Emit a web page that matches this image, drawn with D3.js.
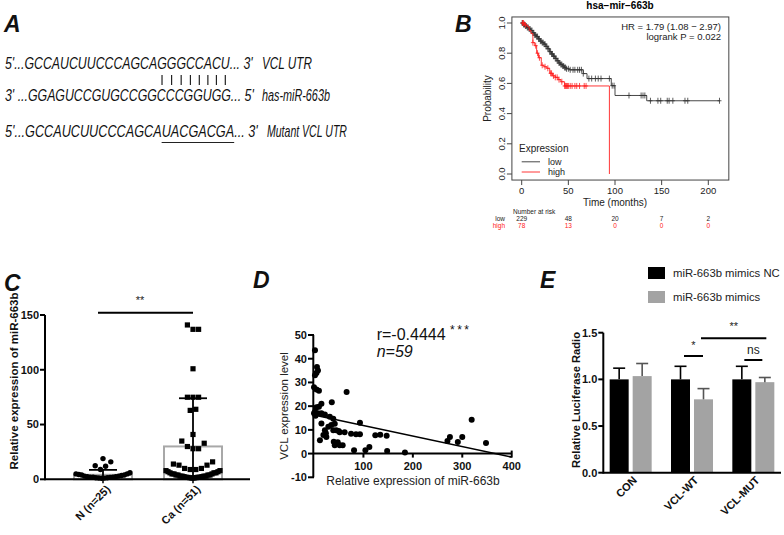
<!DOCTYPE html>
<html><head><meta charset="utf-8">
<script src="https://cdn.jsdelivr.net/npm/d3@7"></script>
<style>body{margin:0;background:#fff}svg{display:block}text{font-family:"Liberation Sans",Arial,Helvetica,sans-serif}</style>
</head><body><svg id="c" width="784" height="535"></svg>
<script>
// ---------- DATA ----------
// Panel A
const seqLeft = ["5'...GCCAUCUUCCCAGCAGGGCCACU... 3'", "3' ...GGAGUCCGUGCCGGCCCGGUGG... 5'", "5'...GCCAUCUUCCCAGCAUACGACGA... 3'"];
const seqRight = ["VCL UTR", "has-miR-663b", "Mutant VCL UTR"];
const pairIdx = [20, 21, 22, 23, 24, 25, 26, 27];
// Panel B (Kaplan-Meier)
const kmTitle = "hsa\u2212mir\u2212663b";
const kmLowT = [0, 2, 4, 6, 8, 10, 12, 14, 16, 18, 20, 22, 24, 26, 28, 30, 32, 34, 36, 38, 40, 42, 44, 46, 48, 51, 66, 70, 96, 100, 134, 212];
const kmLowS = [1.0, 0.99, 0.98, 0.97, 0.96, 0.95, 0.935, 0.92, 0.91, 0.895, 0.88, 0.87, 0.86, 0.845, 0.83, 0.81, 0.795, 0.78, 0.765, 0.75, 0.735, 0.725, 0.715, 0.705, 0.697, 0.69, 0.665, 0.632, 0.585, 0.52, 0.485, 0.485];
const kmLowCens = [0.5, 1, 2, 3, 4, 5, 6, 7, 8, 9, 10, 11, 12, 13, 14, 15, 16, 17, 18, 19, 20, 21, 22, 23, 24, 25, 26, 27, 28, 29, 30, 31, 32, 33, 34, 35, 36, 37, 38, 39, 40, 41, 42, 43, 44, 45, 46, 47, 48, 50, 52, 55, 57, 60, 62, 64, 66, 72, 75, 79, 82, 85, 94, 97, 99, 115, 128, 130, 132, 138, 146, 149, 156, 158, 162, 175, 178, 212];
const kmHighT = [0, 3, 6, 8, 10, 12, 14, 16, 18, 21, 24, 27, 30, 33, 36, 39, 42, 46, 94];
const kmHighS = [1.0, 0.987, 0.975, 0.95, 0.93, 0.87, 0.85, 0.80, 0.77, 0.72, 0.71, 0.70, 0.667, 0.65, 0.64, 0.625, 0.611, 0.583, 0];
const kmHighCens = [1, 2, 4, 12, 15, 17, 19, 22, 25, 28, 31, 32, 34, 36, 38, 40, 43, 46, 47, 48, 49, 50, 52, 54, 57, 59, 62, 67, 69];
const kmXTicks = [0, 50, 100, 150, 200];
const kmYTicks = [0, 0.2, 0.4, 0.6, 0.8, 1.0];
const kmStats = ["HR = 1.79 (1.08 \u2212 2.97)", "logrank P = 0.022"];
const riskTimes = [0, 50, 100, 150, 200];
const riskLow = [229, 48, 20, 7, 2];
const riskHigh = [78, 13, 0, 0, 0];
// Panel C
const groupsC = ["N (n=25)", "Ca (n=51)"];
const valuesN = [18, 15, 11.5, 11, 8, 5, 4, 4, 3.5, 3, 3, 2.5, 2, 2, 1.5, 1.5, 1, 1, 1, 0.8, 0.5, 0.5, 0.3, 0.2, 0.1];
const valuesCa = [140, 136, 136, 100, 74, 74, 74, 63, 62, 40, 34, 32, 29, 27, 27, 15, 13, 12, 12, 9, 9, 8, 8, 7, 7, 6, 6, 5, 5, 5, 4, 4, 4, 3, 3, 3, 3, 2, 2, 2, 2, 1.5, 1.5, 1, 1, 1, 0.8, 0.6, 0.5, 0.3, 0.2];
const meanC = [4.1, 30];
const sdC = [4.5, 44];
const ticksC = [0, 50, 100, 150];
// Panel D
const scatX = [2, 2, 5, 6, 8, 0, 5, 10, 2, 5, 10, 15, 8, 15, 22, 15, 12, 36, 32, 39, 42, 29, 22, 25, 19, 39, 45, 52, 62, 75, 66, 93, 85, 93, 45, 52, 58, 48, 81, 104, 112, 124, 134, 147, 148, 184, 319, 275, 270, 291, 300, 348, 0, 3, 24, 40, 42, 50, 35];
const scatY = [43.6, 33, 34, 36.5, 35, 28, 27, 26.5, 17.6, 19.5, 19.7, 21, 17, 17, 16.5, 12.7, 5.6, 21.6, 15.5, 14.7, 12.6, 11.3, 9.8, 7, 7.8, 9.8, 9.8, 9, 9, 8.4, 26, 13, 8.2, 8.2, 4.3, 3.5, 3.5, 4.8, 1.4, 1.4, 2.8, 7.7, 7.9, 7.5, 1.1, 0.5, 14.3, 7, 5.3, 4.9, 7, 4.5, 17, 16, 8.6, 5, 3.5, 9.5, 12];
const regIntercept = 16.3, regSlope = -0.0445, regRange = [0, 400];
const ticksDX = [100, 200, 300, 400];
const ticksDY = [-10, 0, 10, 20, 30, 40, 50];
// Panel E
const groupsE = ["CON", "VCL-WT", "VCL-MUT"];
const seriesE = ["miR-663b mimics NC", "miR-663b mimics"];
const meanNC = [1.0, 1.0, 1.0];
const meanMim = [1.035, 0.786, 0.97];
const errNC = [0.12, 0.14, 0.14];
const errMim = [0.135, 0.115, 0.05];
const ticksE = [0, 0.5, 1.0, 1.5];

// ---------- DRAW ----------
const svg = d3.select("#c");
svg.append("rect").attr("width", 784).attr("height", 535).attr("fill", "#fff");

// panel letters
[["A", 4, 32], ["B", 455, 32], ["C", 4, 291], ["D", 253, 288], ["E", 540, 288]].forEach(([t, x, y]) =>
  svg.append("text").attr("x", x).attr("y", y).attr("font-size", 23).attr("font-weight", "bold")
    .attr("font-style", "italic").attr("fill", "#111").text(t));

// ===== Panel A =====
const aBase = [69, 101, 137];
const aLen = [[248, 50], [249, 68], [253, 80]];
const aRightX = [262, 262, 267];
function fitText(str, x, y, w) {
  const t = svg.append("text").attr("font-size", 16.5).attr("font-style", "italic").attr("fill", "#111").text(str);
  const nat = t.node().getComputedTextLength();
  const sx = w / nat;
  t.attr("transform", `translate(${x},${y}) scale(${sx},1)`);
  return { node: t.node(), x, sx };
}
const seqNodes = seqLeft.map((s, i) => fitText(s, 5, aBase[i], aLen[i][0]));
seqRight.forEach((s, i) => fitText(s, aRightX[i], aBase[i], aLen[i][1]));
const s1 = seqNodes[0], s3 = seqNodes[2];
pairIdx.forEach(i => {
  const st = s1.node.getStartPositionOfChar(i).x, en = s1.node.getEndPositionOfChar(i).x;
  const cx = s1.x + s1.sx * (st + en) / 2;
  svg.append("line").attr("x1", cx).attr("x2", cx).attr("y1", 75).attr("y2", 85).attr("stroke", "#222").attr("stroke-width", 1.2);
});
{
  const x1 = s3.x + s3.sx * s3.node.getStartPositionOfChar(pairIdx[0]).x;
  const x2 = s3.x + s3.sx * s3.node.getEndPositionOfChar(pairIdx[pairIdx.length - 1]).x;
  svg.append("line").attr("x1", x1).attr("x2", x2).attr("y1", 142.5).attr("y2", 142.5).attr("stroke", "#222").attr("stroke-width", 1);
}

// ===== Panel B =====
const gB = svg.append("g");
const xB = d3.scaleLinear().domain([0, 200]).range([521.7, 708.3]);
const yB = d3.scaleLinear().domain([0, 1]).range([174, 23]);
gB.append("text").attr("x", 620).attr("y", 9).attr("text-anchor", "middle").attr("font-size", 10).attr("font-weight", "bold").text(kmTitle);
gB.append("rect").attr("x", xB(-10.5)).attr("y", yB(1.04)).attr("width", xB(222) - xB(-10.5)).attr("height", yB(-0.04) - yB(1.04))
  .attr("fill", "none").attr("stroke", "#444").attr("stroke-width", 1);
const boxL = xB(-10.5), boxB = yB(-0.04);
kmYTicks.forEach(v => {
  gB.append("line").attr("x1", boxL - 5).attr("x2", boxL).attr("y1", yB(v)).attr("y2", yB(v)).attr("stroke", "#444");
  gB.append("text").attr("transform", `translate(${boxL - 7},${yB(v)}) rotate(-90)`).attr("text-anchor", "middle")
    .attr("font-size", 9.5).attr("fill", "#222").text(v.toFixed(1));
});
kmXTicks.forEach(v => {
  gB.append("line").attr("x1", xB(v)).attr("x2", xB(v)).attr("y1", boxB).attr("y2", boxB + 5).attr("stroke", "#444");
  gB.append("text").attr("x", xB(v)).attr("y", 193.5).attr("text-anchor", "middle").attr("font-size", 9.5).attr("fill", "#222").text(v);
});
gB.append("text").attr("x", xB(100)).attr("y", 206).attr("text-anchor", "middle").attr("font-size", 10).attr("fill", "#222").text("Time (months)");
gB.append("text").attr("transform", `translate(491,${(yB(0) + yB(1)) / 2}) rotate(-90)`).attr("text-anchor", "middle").attr("font-size", 10).attr("fill", "#222").text("Probability");
kmStats.forEach((s, i) => gB.append("text").attr("x", 721).attr("y", 29.5 + i * 10.5).attr("text-anchor", "end").attr("font-size", 9.5).attr("fill", "#222").text(s));

function survAt(T, S, t) { const i = d3.bisectRight(T, t) - 1; return S[Math.max(0, i)]; }
const kmLine = d3.line().x(d => xB(d[0])).y(d => yB(d[1])).curve(d3.curveStepAfter);
function drawKM(T, S, cens, color) {
  gB.append("path").attr("d", kmLine(T.map((t, i) => [t, S[i]]))).attr("fill", "none").attr("stroke", color).attr("stroke-width", 0.9);
  cens.forEach(t => {
    const s = survAt(T, S, t);
    gB.append("line").attr("x1", xB(t)).attr("x2", xB(t)).attr("y1", yB(s) - 3).attr("y2", yB(s) + 3).attr("stroke", color).attr("stroke-width", 0.8);
    gB.append("line").attr("x1", xB(t) - 2).attr("x2", xB(t) + 2).attr("y1", yB(s)).attr("y2", yB(s)).attr("stroke", color).attr("stroke-width", 0.8);
  });
}
drawKM(kmLowT, kmLowS, kmLowCens, "#333");
drawKM(kmHighT, kmHighS, kmHighCens, "#ff2020");
// legend
gB.append("text").attr("x", 519).attr("y", 152).attr("font-size", 10).attr("fill", "#222").text("Expression");
[["low", "#333", 161.8], ["high", "#ff2020", 172]].forEach(([t, c, y]) => {
  gB.append("line").attr("x1", 521.7).attr("x2", 540).attr("y1", y).attr("y2", y).attr("stroke", c).attr("stroke-width", 0.9);
  gB.append("text").attr("x", 548).attr("y", y + 3.2).attr("font-size", 9).attr("fill", "#222").text(t);
});
// risk table
gB.append("text").attr("x", 513).attr("y", 214).attr("font-size", 6.5).attr("fill", "#222").text("Number at risk");
gB.append("text").attr("x", 505).attr("y", 220.5).attr("text-anchor", "end").attr("font-size", 6.5).attr("fill", "#222").text("low");
gB.append("text").attr("x", 505).attr("y", 228).attr("text-anchor", "end").attr("font-size", 6.5).attr("fill", "#ff2020").text("high");
riskTimes.forEach((t, i) => {
  gB.append("text").attr("x", xB(t)).attr("y", 220.5).attr("text-anchor", "middle").attr("font-size", 6.5).attr("fill", "#222").text(riskLow[i]);
  gB.append("text").attr("x", xB(t)).attr("y", 228).attr("text-anchor", "middle").attr("font-size", 6.5).attr("fill", "#ff2020").text(riskHigh[i]);
});

// ===== Panel C =====
const gC = svg.append("g");
const yC = d3.scaleLinear().domain([0, 150]).range([479.3, 315]);
const xC = d3.scalePoint().domain(groupsC).range([58, 238]).padding(0.5);
const axC = 45;
const barWC = 58;
// Prism-like column scatter: rows of nearby values, spread alternately outward, compressed to column width
function columnScatter(vals, sym, rowH, maxW) {
  const pts = vals.map(v => ({ v, y: yC(v) })).sort((a, b) => a.v - b.v);
  const rows = [];
  pts.forEach(p => {
    const r = rows[rows.length - 1];
    if (r && r[0].y - p.y < rowH) r.push(p); else rows.push([p]);
  });
  rows.forEach(row => {
    const n = row.length;
    const sp = n > 1 ? Math.min(sym, maxW / (n - 1)) : 0;
    row.forEach((p, i) => {
      const k = Math.ceil(i / 2), side = i % 2 ? 1 : -1;
      p.dx = k * side * sp;
    });
    const m = (d3.max(row, p => p.dx) + d3.min(row, p => p.dx)) / 2;
    row.forEach(p => p.dx -= m);
  });
  return pts;
}
groupsC.forEach((g, i) => {
  gC.append("rect").attr("x", xC(g) - barWC / 2).attr("y", yC(meanC[i])).attr("width", barWC).attr("height", yC(0) - yC(meanC[i]))
    .attr("fill", "#fff").attr("stroke", "#a8a8a8").attr("stroke-width", 2);
});
columnScatter(valuesN, 5.2, 8, barWC - 4).forEach(p => gC.append("circle").attr("cx", xC(groupsC[0]) + p.dx).attr("cy", p.y - 1).attr("r", 2.7).attr("fill", "#000"));
columnScatter(valuesCa, 5.6, 8, barWC - 4).forEach(p => gC.append("rect").attr("x", xC(groupsC[1]) + p.dx - 2.6).attr("y", p.y - 3.6).attr("width", 5.2).attr("height", 5.2).attr("fill", "#000"));
groupsC.forEach((g, i) => {
  const top = meanC[i] + sdC[i], bot = Math.max(0, meanC[i] - sdC[i]);
  gC.append("line").attr("x1", xC(g)).attr("x2", xC(g)).attr("y1", yC(top)).attr("y2", yC(bot)).attr("stroke", "#000").attr("stroke-width", 1.8);
  gC.append("line").attr("x1", xC(g) - 14).attr("x2", xC(g) + 14).attr("y1", yC(top)).attr("y2", yC(top)).attr("stroke", "#000").attr("stroke-width", 1.8);
});
gC.append("line").attr("x1", axC).attr("x2", axC).attr("y1", yC(0) + 1).attr("y2", yC(150)).attr("stroke", "#000").attr("stroke-width", 2);
gC.append("line").attr("x1", axC).attr("x2", 250).attr("y1", yC(0)).attr("y2", yC(0)).attr("stroke", "#000").attr("stroke-width", 2);
ticksC.forEach(v => {
  gC.append("line").attr("x1", axC - 5).attr("x2", axC).attr("y1", yC(v)).attr("y2", yC(v)).attr("stroke", "#000").attr("stroke-width", 2);
  gC.append("text").attr("x", axC - 6).attr("y", yC(v)).attr("dy", "0.36em").attr("text-anchor", "end").attr("font-size", 11).attr("font-weight", "bold").attr("fill", "#111").text(v);
});
groupsC.forEach(g => {
  gC.append("line").attr("x1", xC(g)).attr("x2", xC(g)).attr("y1", yC(0)).attr("y2", yC(0) + 4).attr("stroke", "#000").attr("stroke-width", 1.5);
  gC.append("text").attr("transform", `translate(${xC(g) + 8},${490}) rotate(-45)`).attr("text-anchor", "end").attr("font-size", 11).attr("font-weight", "bold").attr("fill", "#111").text(g);
});
gC.append("text").attr("transform", `translate(18,381) rotate(-90)`).attr("text-anchor", "middle").attr("font-size", 11.5).attr("font-weight", "bold").attr("fill", "#111").text("Relative expression of miR-663b");
gC.append("line").attr("x1", xC(groupsC[0]) - 5).attr("x2", xC(groupsC[1])).attr("y1", yC(152)).attr("y2", yC(152)).attr("stroke", "#000").attr("stroke-width", 2);
gC.append("text").attr("x", 140).attr("y", 304).attr("text-anchor", "middle").attr("font-size", 11).attr("fill", "#222").text("**");

// ===== Panel D =====
const gD = svg.append("g");
const xD = d3.scaleLinear().domain([0, 400]).range([314, 511.7]);
const yD = d3.scaleLinear().domain([-10, 50]).range([477.3, 335]);
gD.append("line").attr("x1", xD(0) - 0.7).attr("x2", xD(0) - 0.7).attr("y1", yD(-10)).attr("y2", yD(50)).attr("stroke", "#000").attr("stroke-width", 2);
gD.append("line").attr("x1", xD(0)).attr("x2", xD(400)).attr("y1", yD(0)).attr("y2", yD(0)).attr("stroke", "#000").attr("stroke-width", 2);
ticksDY.forEach(v => {
  gD.append("line").attr("x1", xD(0) - 6).attr("x2", xD(0)).attr("y1", yD(v)).attr("y2", yD(v)).attr("stroke", "#000").attr("stroke-width", 2);
  gD.append("text").attr("x", xD(0) - 7).attr("y", yD(v)).attr("dy", "0.36em").attr("text-anchor", "end").attr("font-size", 11).attr("font-weight", "bold").attr("fill", "#111").text(v);
});
ticksDX.forEach(v => {
  gD.append("line").attr("x1", xD(v)).attr("x2", xD(v)).attr("y1", yD(0) - (v === 400 ? 3 : 0)).attr("y2", yD(0) + 4).attr("stroke", "#000").attr("stroke-width", 2);
  gD.append("text").attr("x", xD(v)).attr("y", 470).attr("text-anchor", "middle").attr("font-size", 11).attr("font-weight", "bold").attr("fill", "#111").text(v);
});
gD.append("line").attr("x1", xD(regRange[0])).attr("x2", xD(regRange[1]))
  .attr("y1", yD(regIntercept + regSlope * regRange[0])).attr("y2", yD(regIntercept + regSlope * regRange[1]))
  .attr("stroke", "#000").attr("stroke-width", 1.6);
scatX.forEach((x, i) => gD.append("circle").attr("cx", xD(x)).attr("cy", yD(scatY[i])).attr("r", 3).attr("fill", "#000"));
gD.append("text").attr("x", 413).attr("y", 485).attr("text-anchor", "middle").attr("font-size", 12).attr("fill", "#222").text("Relative expression of miR-663b");
gD.append("text").attr("transform", `translate(288,406) rotate(-90)`).attr("text-anchor", "middle").attr("font-size", 11.5).attr("fill", "#222").text("VCL expression level");
gD.append("text").attr("x", 376.7).attr("y", 340).attr("font-size", 16).attr("fill", "#111").text("r=-0.4444");
gD.append("text").attr("x", 450).attr("y", 334).attr("font-size", 12).attr("fill", "#111").attr("letter-spacing", 2.5).text("***");
gD.append("text").attr("x", 376.7).attr("y", 357).attr("font-size", 16).attr("font-style", "italic").attr("fill", "#111").text("n=59");

// ===== Panel E =====
const gE = svg.append("g");
const yE = d3.scaleLinear().domain([0, 1.5]).range([472.7, 332.7]);
const xE = d3.scaleBand().domain(groupsE).range([600, 784]);
const barWE = 19, offE = 11.5, axE = 603.3;
const colorsE = ["#000", "#a3a3a3"];
const seriesVals = [meanNC, meanMim], seriesErr = [errNC, errMim];
groupsE.forEach((g, gi) => {
  const cx = xE(g) + xE.bandwidth() / 2;
  [0, 1].forEach(si => {
    const bx = cx + (si ? offE : -offE);
    const m = seriesVals[si][gi], e = seriesErr[si][gi];
    gE.append("rect").attr("x", bx - barWE / 2).attr("y", yE(m)).attr("width", barWE).attr("height", yE(0) - yE(m)).attr("fill", colorsE[si]);
    gE.append("line").attr("x1", bx).attr("x2", bx).attr("y1", yE(m)).attr("y2", yE(m + e)).attr("stroke", si ? "#555" : "#000").attr("stroke-width", 1.6);
    gE.append("line").attr("x1", bx - 6).attr("x2", bx + 6).attr("y1", yE(m + e)).attr("y2", yE(m + e)).attr("stroke", si ? "#555" : "#000").attr("stroke-width", 1.6);
  });
  gE.append("text").attr("transform", `translate(${cx + 7},481) rotate(-45)`).attr("text-anchor", "end").attr("font-size", 11).attr("font-weight", "bold").attr("fill", "#111").text(g);
});
gE.append("line").attr("x1", axE).attr("x2", axE).attr("y1", yE(0) + 1).attr("y2", yE(1.5)).attr("stroke", "#000").attr("stroke-width", 2);
gE.append("line").attr("x1", axE).attr("x2", 781).attr("y1", yE(0)).attr("y2", yE(0)).attr("stroke", "#000").attr("stroke-width", 2);
ticksE.forEach(v => {
  gE.append("line").attr("x1", axE - 5).attr("x2", axE).attr("y1", yE(v)).attr("y2", yE(v)).attr("stroke", "#000").attr("stroke-width", 2);
  gE.append("text").attr("x", axE - 6).attr("y", yE(v)).attr("dy", "0.36em").attr("text-anchor", "end").attr("font-size", 11).attr("font-weight", "bold").attr("fill", "#111").text(v.toFixed(1));
});
gE.append("text").attr("transform", `translate(580,400) rotate(-90)`).attr("text-anchor", "middle").attr("font-size", 11.5).attr("font-weight", "bold").attr("fill", "#111")
  .attr("textLength", 136).attr("lengthAdjust", "spacingAndGlyphs").text("Relative Luciferase Radio");
// legend
seriesE.forEach((s, i) => {
  const y = 273 + i * 24;
  gE.append("rect").attr("x", 648).attr("y", y - 6).attr("width", 17).attr("height", 12).attr("fill", colorsE[i]);
  gE.append("text").attr("x", 673).attr("y", y).attr("dy", "0.36em").attr("font-size", 11.3).attr("fill", "#222").text(s);
});
// significance
const cxE = g => xE(g) + xE.bandwidth() / 2;
[[cxE("VCL-WT") - 8, cxE("VCL-WT") + 11, 356, "*", 349],
 [cxE("VCL-WT") + 9, cxE("VCL-MUT") + 13, 338.3, "**", 330],
 [cxE("VCL-MUT") - 9, cxE("VCL-MUT") + 9, 360, "ns", 354]].forEach(([x1, x2, y, t, ty]) => {
  gE.append("line").attr("x1", x1).attr("x2", x2).attr("y1", y).attr("y2", y).attr("stroke", "#000").attr("stroke-width", 2);
  gE.append("text").attr("x", (x1 + x2) / 2).attr("y", ty).attr("text-anchor", "middle").attr("font-size", t === "ns" ? 12 : 11).attr("fill", "#222").text(t);
});
</script></body></html>
